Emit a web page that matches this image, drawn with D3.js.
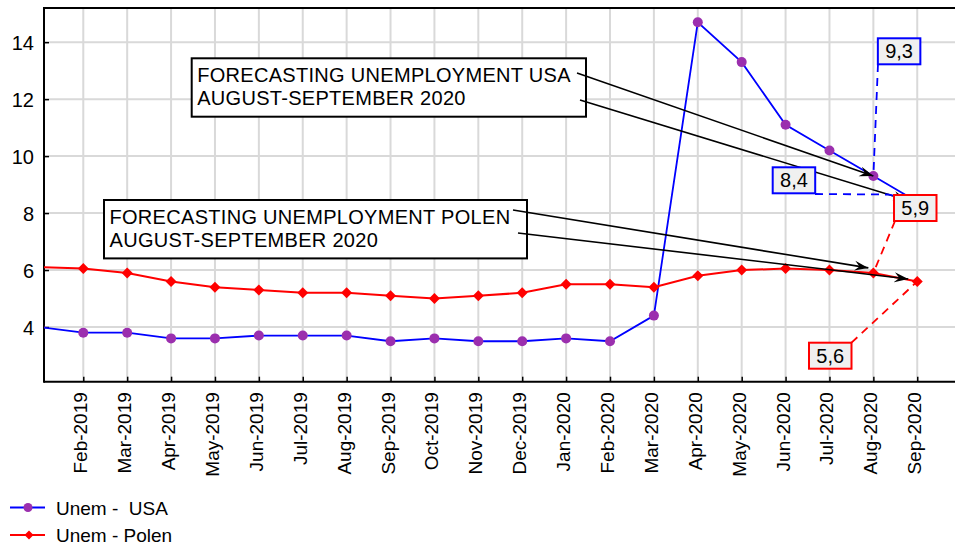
<!DOCTYPE html>
<html lang="en">
<head>
<meta charset="utf-8">
<title>Unemployment USA / Polen</title>
<script src="https://cdnjs.cloudflare.com/ajax/libs/d3/7.8.5/d3.min.js"></script>
<style>
  body { margin: 0; background: #fff; }
  svg { font-family: "Liberation Sans", Arial, sans-serif; }
</style>
</head>
<body>
<script>
// data
var months = ["Jan-2019","Feb-2019","Mar-2019","Apr-2019","May-2019","Jun-2019","Jul-2019",
              "Aug-2019","Sep-2019","Oct-2019","Nov-2019","Dec-2019","Jan-2020","Feb-2020",
              "Mar-2020","Apr-2020","May-2020","Jun-2020","Jul-2020","Aug-2020","Sep-2020"];
var usa   = [4.0,3.8,3.8,3.6,3.6,3.7,3.7,3.7,3.5,3.6,3.5,3.5,3.6,3.5,4.4,14.7,13.3,11.1,10.2,9.3,8.4];
var polen = [6.1,6.05,5.9,5.6,5.4,5.3,5.2,5.2,5.1,5.0,5.1,5.2,5.5,5.5,5.4,5.8,6.0,6.05,6.0,5.9,5.6];
var yTicks = [4, 6, 8, 10, 12, 14];
var seriesNames = ["Unem -  USA", "Unem - Polen"];
var notes = ["FORECASTING UNEMPLOYMENT USA", "FORECASTING UNEMPLOYMENT POLEN"];
var noteLine2 = "AUGUST-SEPTEMBER 2020";

var w = 955, h = 545;
var pLeft = 44, pTop = 8, pRight = 955, pBottom = 381.7;

var svg = d3.select("body").append("svg")
    .attr("width", w)
    .attr("height", h);

var x = d3.scaleLinear().domain([0.105, 20.86]).range([pLeft, pRight]);
var y = d3.scaleLinear().domain([2.08, 15.2]).range([pBottom, pTop]);

svg.append("clipPath").attr("id", "plot")
  .append("rect")
    .attr("x", pLeft).attr("y", pTop)
    .attr("width", pRight - pLeft).attr("height", pBottom - pTop);

// grid
var grid = svg.append("g");
grid.selectAll("line.v")
  .data(d3.range(1, months.length))
  .enter().append("line")
    .attr("x1", function(d) { return x(d); })
    .attr("x2", function(d) { return x(d); })
    .attr("y1", pTop).attr("y2", pBottom)
    .attr("stroke", "#d9d9d9").attr("stroke-width", 2);
grid.selectAll("line.h")
  .data(yTicks)
  .enter().append("line")
    .attr("x1", pLeft).attr("x2", pRight)
    .attr("y1", function(d) { return y(d); })
    .attr("y2", function(d) { return y(d); })
    .attr("stroke", "#d9d9d9").attr("stroke-width", 2);

// axes
var yAxis = svg.append("g")
    .attr("transform", "translate(" + pLeft + ",0)")
    .call(d3.axisLeft(y).tickValues(yTicks).tickSize(-5).tickPadding(10));
yAxis.selectAll("text").style("font-size", "20px").attr("fill", "#000").attr("dy", "0.36em");

var xAxis = svg.append("g")
    .attr("transform", "translate(0," + pBottom + ")")
    .call(d3.axisBottom(x).tickValues(d3.range(1, months.length))
          .tickFormat(function(i) { return months[i]; })
          .tickSize(-5).tickPadding(0));
xAxis.selectAll("text")
    .style("font-size", "19px")
    .attr("fill", "#000")
    .attr("text-anchor", "end")
    .attr("transform", "rotate(-90)")
    .attr("x", -10.5)
    .attr("y", 3.5)
    .attr("dy", "0");

svg.selectAll(".domain").remove();
svg.selectAll(".tick line").attr("stroke", "#000").attr("stroke-width", 1.5);

// axis frame: left, bottom, top
svg.append("line").attr("x1", pLeft).attr("x2", pLeft).attr("y1", pTop - 1).attr("y2", pBottom + 1)
   .attr("stroke", "#000").attr("stroke-width", 2);
svg.append("line").attr("x1", pLeft).attr("x2", pRight).attr("y1", pBottom).attr("y2", pBottom)
   .attr("stroke", "#000").attr("stroke-width", 2);
svg.append("line").attr("x1", pLeft).attr("x2", pRight).attr("y1", pTop).attr("y2", pTop)
   .attr("stroke", "#000").attr("stroke-width", 2);

// series
var line = d3.line().x(function(d, i) { return x(i); }).y(function(d) { return y(d); });
var plot = svg.append("g").attr("clip-path", "url(#plot)");

plot.append("path").datum(usa)
    .attr("d", line).attr("fill", "none")
    .attr("stroke", "#0000ff").attr("stroke-width", 1.8);
plot.append("path").datum(polen)
    .attr("d", line).attr("fill", "none")
    .attr("stroke", "#ff0000").attr("stroke-width", 2);

var diamond = "M0,-5.5L5.5,0L0,5.5L-5.5,0Z";
plot.selectAll("circle.usa")
  .data(usa)
  .enter().append("circle")
    .attr("cx", function(d, i) { return x(i); })
    .attr("cy", function(d) { return y(d); })
    .attr("r", 5)
    .attr("fill", "#9b2fae");
plot.selectAll("path.pol")
  .data(polen)
  .enter().append("path")
    .attr("d", diamond)
    .attr("transform", function(d, i) { return "translate(" + x(i) + "," + y(d) + ")"; })
    .attr("fill", "#ff0000");

// arrows
svg.append("defs").append("marker")
    .attr("id", "arr")
    .attr("viewBox", "-14 -6 16 12")
    .attr("refX", 0).attr("refY", 0)
    .attr("markerWidth", 16).attr("markerHeight", 12)
    .attr("markerUnits", "userSpaceOnUse")
    .attr("orient", "auto")
  .append("path")
    .attr("d", "M0,0L-14,-5L-9,0L-14,5Z")
    .attr("fill", "#000");

var aug = 19, sep = 20;
var arrows = [
  [577, 73, x(aug), y(usa[aug])],
  [580, 100, x(sep) - 10, y(usa[sep]) - 1.5],
  [513, 210, x(aug) - 5, y(polen[aug]) - 5],
  [518, 233, x(sep) - 9, y(polen[sep]) - 2.5]
];

// note boxes
var noteBoxes = [[191.7, 58.3, 394.3], [104, 200, 423]];
noteBoxes.forEach(function(b, k) {
  svg.append("rect")
      .attr("x", b[0]).attr("y", b[1]).attr("width", b[2]).attr("height", 58.4)
      .attr("fill", "#fff").attr("stroke", "#000").attr("stroke-width", 2);
  var t = svg.append("text")
      .attr("x", b[0] + 5.5).attr("y", b[1] + 23.5)
      .style("font-size", "20px").style("letter-spacing", "0.3px")
      .attr("fill", "#000");
  t.append("tspan").text(notes[k]);
  t.append("tspan").attr("x", b[0] + 5.5).attr("dy", 23.5).text(noteLine2);
});

svg.selectAll("line.arrow")
  .data(arrows)
  .enter().append("line")
    .attr("x1", function(d) { return d[0]; })
    .attr("y1", function(d) { return d[1]; })
    .attr("x2", function(d) { return d[2]; })
    .attr("y2", function(d) { return d[3]; })
    .attr("stroke", "#000").attr("stroke-width", 1.6)
    .attr("marker-end", "url(#arr)");

// value labels with dashed leaders
var fmt = function(v) { return String(v).replace(".", ","); };
var labels = [
  { v: usa[aug],   c: "#0000ff", px: x(aug), py: y(usa[aug]),   bx: x(aug) + 4.5,  by: 38.3,  lead: [[878, 64]] },
  { v: usa[sep],   c: "#0000ff", px: x(sep), py: y(usa[sep]),   bx: 772.7,         by: 167.3, lead: [[815, 194], [888, 194.5]] },
  { v: polen[aug], c: "#ff0000", px: x(aug), py: y(polen[aug]), bx: 894,           by: 195,   lead: [[895, 221]] },
  { v: polen[sep], c: "#ff0000", px: x(sep), py: y(polen[sep]), bx: 809,           by: 342.7, lead: [[851.5, 342.7]] }
];

labels.forEach(function(l) {
  var pts = l.lead.concat([[l.px, l.py]]);
  svg.append("path")
      .attr("d", d3.line()(pts))
      .attr("fill", "none")
      .attr("stroke", l.c).attr("stroke-width", 1.8)
      .attr("stroke-dasharray", "8,6");
});
labels.forEach(function(l) {
  svg.append("rect")
      .attr("x", l.bx).attr("y", l.by).attr("width", 42.5).attr("height", 26)
      .attr("fill", "#f0f0f0").attr("stroke", l.c).attr("stroke-width", 2);
  svg.append("text")
      .attr("x", l.bx + 21.25).attr("y", l.by + 20)
      .attr("text-anchor", "middle")
      .style("font-size", "20px")
      .attr("fill", "#000")
      .text(fmt(l.v));
});

// legend
var legend = svg.selectAll("g.legend")
  .data(seriesNames)
  .enter().append("g")
    .attr("transform", function(d, i) { return "translate(0," + (507.5 + i * 27.5) + ")"; });
legend.append("line")
    .attr("x1", 10).attr("x2", 45).attr("y1", 0).attr("y2", 0)
    .attr("stroke", function(d, i) { return i === 0 ? "#0000ff" : "#ff0000"; })
    .attr("stroke-width", 2);
legend.each(function(d, i) {
  var g = d3.select(this);
  if (i === 0) {
    g.append("circle").attr("cx", 28).attr("cy", 0).attr("r", 4.5).attr("fill", "#9b2fae");
  } else {
    g.append("path").attr("d", "M0,-4.5L4.5,0L0,4.5L-4.5,0Z")
      .attr("transform", "translate(29,0)").attr("fill", "#ff0000");
  }
});
legend.append("text")
    .attr("x", 56).attr("y", 7)
    .style("font-size", "19px")
    .attr("fill", "#000")
    .style("white-space", "pre")
    .attr("xml:space", "preserve")
    .text(function(d) { return d; });
</script>
</body>
</html>
